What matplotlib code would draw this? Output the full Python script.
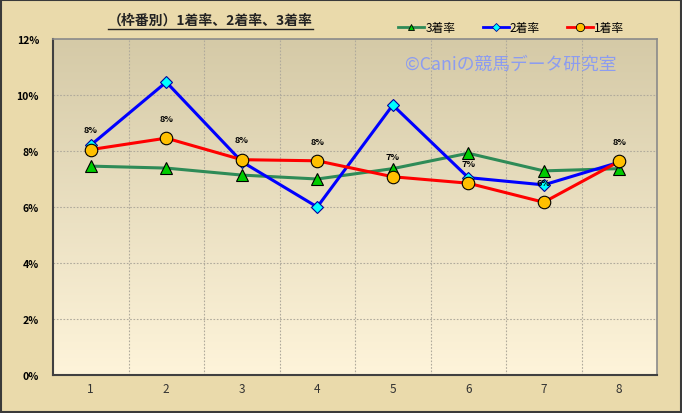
import matplotlib.pyplot as plt
import numpy as np
from matplotlib.lines import Line2D

plt.rcParams['font.family'] = ['Noto Sans CJK JP', 'DejaVu Sans']

WAKU = [1, 2, 3, 4, 5, 6, 7, 8]
RATE3 = [7.46, 7.39, 7.14, 7.00, 7.37, 7.92, 7.29, 7.37]
RATE2 = [8.21, 10.46, 7.62, 6.00, 9.64, 7.05, 6.79, 7.60]
RATE1 = [8.05, 8.46, 7.69, 7.65, 7.08, 6.85, 6.17, 7.63]
Y_TICKS = [0, 2, 4, 6, 8, 10, 12]
TITLE = "（枠番別）1着率、2着率、3着率"
WATERMARK = "©Caniの競馬データ研究室"

fig = plt.figure(figsize=(6.82, 4.14), dpi=100)
fig.patch.set_facecolor('#eadaab')
# outer dark border
fig.patches.append(plt.Rectangle((0.001, 0.002), 0.997, 0.995, transform=fig.transFigure,
                                 fill=False, edgecolor='#3a3a3a', linewidth=1.5))

ax = fig.add_axes([53 / 682, 38 / 414, 604 / 682, 336 / 414])

# plot area gradient: tan at top, cream at bottom
grad = np.linspace(0, 1, 256).reshape(-1, 1)
top = np.array([0.835, 0.792, 0.655])
bot = np.array([0.996, 0.957, 0.855])
img = top + (bot - top) * grad[..., None]
ax.imshow(img, extent=[0, 1, 0, 1], transform=ax.transAxes, aspect='auto', zorder=0)

ax.set_xlim(0.5, 8.5)
ax.set_ylim(0, 12)

for x in np.arange(1.5, 8.5, 1):
    ax.axvline(x, color='#b0aa9c', linestyle=(0, (1.5, 1.5)), linewidth=0.8, zorder=1)
for y in Y_TICKS[1:-1]:
    ax.axhline(y, color='#b0aa9c', linestyle=(0, (1.5, 1.5)), linewidth=0.8, zorder=1)

ax.plot(WAKU, RATE3, color='#2e8b57', linewidth=2.2, marker='^', markersize=8,
        markerfacecolor='#00cc00', markeredgecolor='#000000', markeredgewidth=0.8,
        zorder=3, label='3着率')
ax.plot(WAKU, RATE2, color='#0000ff', linewidth=2.2, marker='D', markersize=6,
        markerfacecolor='#00ffff', markeredgecolor='#0000a0', markeredgewidth=0.8,
        zorder=4, label='2着率')
ax.plot(WAKU, RATE1, color='#ff0000', linewidth=2.2, marker='o', markersize=9,
        markerfacecolor='#ffc000', markeredgecolor='#000000', markeredgewidth=0.8,
        zorder=5, label='1着率')

for x, v in zip(WAKU, RATE1):
    ax.annotate(f"{v:.0f}%", (x, v), xytext=(0, 11), textcoords='offset points',
                ha='center', va='bottom', fontsize=6.5, fontweight='bold', zorder=6)

ax.set_xticks(WAKU)
ax.set_xticklabels([str(w) for w in WAKU], fontsize=8.5, color='#333333')
ax.set_yticks(Y_TICKS)
ax.set_yticklabels([f"{t}%" for t in Y_TICKS], fontsize=7.5, fontweight='bold')
ax.tick_params(axis='x', length=0, pad=5)
ax.tick_params(axis='y', length=0, pad=10)

for side in ['top', 'right']:
    ax.spines[side].set_color('#8a8a8a')
    ax.spines[side].set_linewidth(1.2)
for side in ['left', 'bottom']:
    ax.spines[side].set_color('#404040')
    ax.spines[side].set_linewidth(1.5)

ax.text(0.583, 0.925, WATERMARK, transform=ax.transAxes, fontsize=12.8,
        color='#8c9cf0', ha='left', va='center', zorder=2)

handles = [
    Line2D([], [], color='#2e8b57', linewidth=2, marker='^', markersize=5,
           markerfacecolor='#00cc00', markeredgecolor='#000000', markeredgewidth=0.6),
    Line2D([], [], color='#0000ff', linewidth=2, marker='D', markersize=4,
           markerfacecolor='#00ffff', markeredgecolor='#0000a0', markeredgewidth=0.6),
    Line2D([], [], color='#ff0000', linewidth=2, marker='o', markersize=6,
           markerfacecolor='#ffc000', markeredgecolor='#000000', markeredgewidth=0.6),
]
fig.legend(handles, ['3着率', '2着率', '1着率'], loc='center', ncol=3,
           bbox_to_anchor=(0.75, 0.932), frameon=False, fontsize=8.5,
           handlelength=2.2, handletextpad=0.1, columnspacing=2.3)

title = fig.text(108 / 682, 1 - 21 / 414, TITLE, fontsize=10, fontweight='bold',
                 ha='left', va='center', color='#222222')
fig.canvas.draw()
bb = title.get_window_extent().transformed(fig.transFigure.inverted())
fig.add_artist(Line2D([bb.x0, bb.x1], [bb.y0 - 0.004, bb.y0 - 0.004],
                      transform=fig.transFigure, color='#222222', linewidth=1))

fig.savefig('out.png', dpi=100, facecolor=fig.get_facecolor())
